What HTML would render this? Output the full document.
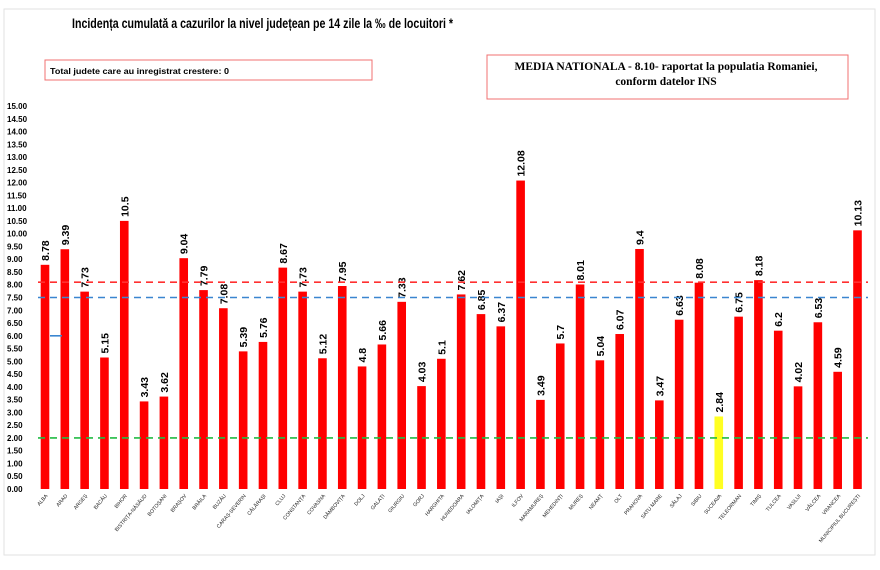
<!DOCTYPE html>
<html><head><meta charset="utf-8"><style>
html,body{margin:0;padding:0;background:#fff;width:880px;height:570px;overflow:hidden}
svg{display:block;font-family:"Liberation Sans",sans-serif}
</style></head><body>
<svg id="chart" width="880" height="570">
<rect x="4" y="9" width="871" height="546" fill="none" stroke="#e2e2e2"/>
<text x="72" y="28" font-size="13.5" font-weight="bold" fill="#000" textLength="381" lengthAdjust="spacingAndGlyphs">Incidența cumulată a cazurilor la nivel județean pe 14 zile la ‰ de locuitori *</text>
<rect x="45" y="60" width="327" height="20" fill="none" stroke="#f07070"/>
<text x="50" y="74" font-size="8.5" font-weight="bold" textLength="179" lengthAdjust="spacingAndGlyphs">Total judete care au inregistrat crestere: 0</text>
<rect x="487" y="55" width="361" height="44" fill="none" stroke="#f07070"/>
<text x="666" y="70" font-size="11.5" font-weight="bold" text-anchor="middle" font-family="Liberation Serif, serif">MEDIA NATIONALA - 8.10-  raportat la populatia  Romaniei,</text>
<text x="666" y="85" font-size="11.5" font-weight="bold" text-anchor="middle" font-family="Liberation Serif, serif">conform datelor INS</text>
<g id="yaxis"></g><g id="bars"></g><g id="refs"></g><g id="xlabels"></g>
</svg>
<script>
const categories=["ALBA","ARAD","ARGEȘ","BACĂU","BIHOR","BISTRIȚA-NĂSĂUD","BOTOȘANI","BRAȘOV","BRĂILA","BUZĂU","CARAȘ-SEVERIN","CĂLĂRAȘI","CLUJ","CONSTANȚA","COVASNA","DÂMBOVIȚA","DOLJ","GALAȚI","GIURGIU","GORJ","HARGHITA","HUNEDOARA","IALOMIȚA","IAȘI","ILFOV","MARAMUREȘ","MEHEDINȚI","MUREȘ","NEAMȚ","OLT","PRAHOVA","SATU MARE","SĂLAJ","SIBIU","SUCEAVA","TELEORMAN","TIMIȘ","TULCEA","VASLUI","VÂLCEA","VRANCEA","MUNICIPIUL BUCUREȘTI"];
const values=[8.78,9.39,7.73,5.15,10.5,3.43,3.62,9.04,7.79,7.08,5.39,5.76,8.67,7.73,5.12,7.95,4.8,5.66,7.33,4.03,5.1,7.62,6.85,6.37,12.08,3.49,5.7,8.01,5.04,6.07,9.4,3.47,6.63,8.08,2.84,6.75,8.18,6.2,4.02,6.53,4.59,10.13];
const valueLabels=["8.78","9.39","7.73","5.15","10.5","3.43","3.62","9.04","7.79","7.08","5.39","5.76","8.67","7.73","5.12","7.95","4.8","5.66","7.33","4.03","5.1","7.62","6.85","6.37","12.08","3.49","5.7","8.01","5.04","6.07","9.4","3.47","6.63","8.08","2.84","6.75","8.18","6.2","4.02","6.53","4.59","10.13"];
const highlight=["SUCEAVA"];
const refValues=[8.10,7.5,2.0];
const refColors=["#ff3030","#3a86d0","#22bb44"];
const yTicks=[0,0.5,1,1.5,2,2.5,3,3.5,4,4.5,5,5.5,6,6.5,7,7.5,8,8.5,9,9.5,10,10.5,11,11.5,12,12.5,13,13.5,14,14.5,15];
const NS="http://www.w3.org/2000/svg";
const y0=489, yTop=106, yMax=15;
function y(v){return y0-(v/yMax)*(y0-yTop);}
function x(i){return 45+i*(857.5-45)/(categories.length-1);}
function mk(t,a,p){const e=document.createElementNS(NS,t);for(const k in a)e.setAttribute(k,a[k]);p.appendChild(e);return e;}
const ya=document.getElementById('yaxis');
yTicks.forEach(v=>{const t=mk('text',{x:7,y:y(v)+3,'font-size':'8','font-weight':'bold'},ya);


t.textContent=v.toFixed(2);});
const bg=document.getElementById('bars');
categories.forEach((c,i)=>{
 const r=mk('rect',{x:x(i)-4.3,y:y(values[i]),width:8.6,height:y0-y(values[i]),fill:highlight.includes(c)?'#ffff22':'#ff0000'},bg);
 
 
 const tx=x(i)+4, ty=y(values[i])-4;
 const t=mk('text',{x:tx,y:ty,'font-size':'10.5','font-weight':'bold',transform:`rotate(-90 ${tx} ${ty})`},bg);
 
 
 t.textContent=valueLabels[i];
});
const rg=document.getElementById('refs');
refValues.forEach((v,k)=>{const l=mk('line',{x1:38,x2:868,y1:y(v),y2:y(v),stroke:refColors[k],'stroke-width':1.6,'stroke-dasharray':'7,5'},rg);

});
const bm=mk('line',{x1:50,x2:62,y1:y(6),y2:y(6),stroke:'#3a86d0','stroke-width':1.6},rg);


const xl=document.getElementById('xlabels');
categories.forEach((c,i)=>{const tx=x(i)+3, ty=496;
 const t=mk('text',{x:tx,y:ty,'font-size':'5.2','text-anchor':'end',fill:'#222',transform:`rotate(-50 ${tx} ${ty})`},xl);
 
 
 t.textContent=c;});
</script>
</body></html>
